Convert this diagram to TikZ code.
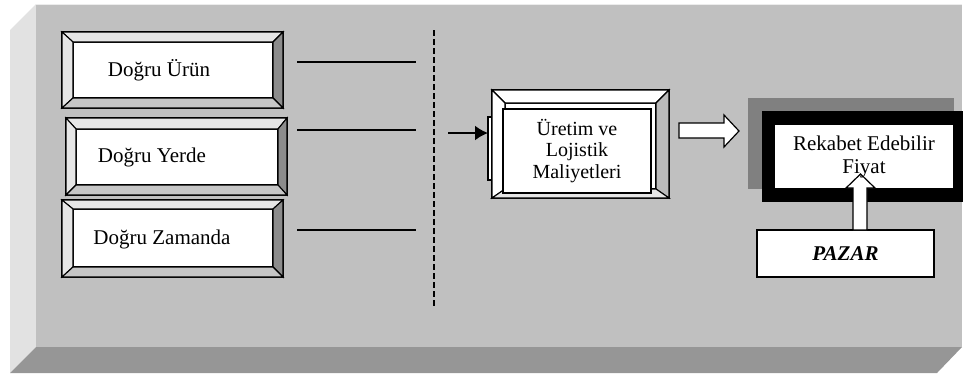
\documentclass[tikz,border=0pt]{standalone}
\usepackage{fontspec}
\setmainfont{Liberation Serif}
\usepackage{tikz}
\usepackage{xcolor}
\usetikzlibrary{arrows.meta}

\definecolor{frontgray}{HTML}{C0C0C0}
\definecolor{sidegray}{HTML}{E2E2E2}
\definecolor{floorgray}{HTML}{969696}
\definecolor{bevlight}{HTML}{E6E6E6}
\definecolor{bevdark}{HTML}{8C8C8C}
\definecolor{bevmid}{HTML}{C6C6C6}
\definecolor{shadegray}{HTML}{808080}

\tikzset{
  plate/.style={draw, line width=1.1pt, outer sep=0pt, inner sep=0pt, fill=white},
  label/.style={font=\fontsize{21}{23}\selectfont, align=center, inner sep=0pt},
  hline/.style={line width=2pt},
}

% four bevel faces between an outer and an inner node
\newcommand{\bevelfaces}[6]{%
  \filldraw[line width=1.1pt, fill=#3] (#1.north west) -- (#1.north east) -- (#2.north east) -- (#2.north west) -- cycle;
  \filldraw[line width=1.1pt, fill=#4] (#1.north west) -- (#2.north west) -- (#2.south west) -- (#1.south west) -- cycle;
  \filldraw[line width=1.1pt, fill=#5] (#1.north east) -- (#2.north east) -- (#2.south east) -- (#1.south east) -- cycle;
  \filldraw[line width=1.1pt, fill=#6] (#1.south west) -- (#2.south west) -- (#2.south east) -- (#1.south east) -- cycle;
}

\begin{document}
\begin{tikzpicture}[x=1pt, y=-1pt]
\useasboundingbox (0, 0) rectangle (963, 376);
% the slab behind everything
\fill[sidegray] (36, 4) -- (36, 347) -- (10, 373) -- (10, 30) -- cycle;
\fill[floorgray] (36, 347) -- (962, 347) -- (937, 373) -- (10, 373) -- cycle;
\fill[frontgray] (36, 4) rectangle (962, 347);
\draw[white!85!gray, line width=1pt] (36, 4) -- (962, 4);

% left column
\node[plate, minimum width=221, minimum height=76] (urunout) at (172.5, 70) {};
\node[plate, minimum width=200, minimum height=56] (urunin) at (173, 70) {};
\bevelfaces{urunout}{urunin}{bevlight}{bevlight}{bevdark}{bevmid}
\node[label] (urun) at (159, 70) {Doğru Ürün};

\node[plate, minimum width=221, minimum height=77] (yerdeout) at (176.5, 156.5) {};
\node[plate, minimum width=202, minimum height=56] (yerdein) at (177, 157) {};
\bevelfaces{yerdeout}{yerdein}{bevlight}{bevlight}{bevdark}{bevmid}
\node[label] (yerde) at (152, 157) {Doğru Yerde};

\node[plate, minimum width=221, minimum height=77] (zamanout) at (172.5, 238.5) {};
\node[plate, minimum width=200, minimum height=58] (zamanin) at (173, 238) {};
\bevelfaces{zamanout}{zamanin}{bevlight}{bevlight}{bevdark}{bevmid}
\node[label] (zaman) at (162, 239) {Doğru Zamanda};

\foreach \y in {62, 130, 230}
  \draw[hline] (297, \y) -- (416, \y);
\draw[line width=2pt, dash pattern=on 6pt off 3pt] (434, 30) -- (434, 307);

% cost box
\node[plate, minimum width=5, minimum height=63] (side) at (490.5, 148.5) {};
\node[plate, minimum width=177, minimum height=108] (maliout) at (580.5, 144) {};
\node[plate, minimum width=151, minimum height=86] (maliin) at (580.5, 146) {};
\bevelfaces{maliout}{maliin}{white}{white}{bevmid!85!gray}{bevlight}
\node[plate, line width=2pt, minimum width=148, minimum height=84] (mali) at (577, 151) {};
\node[label, font=\fontsize{20}{21.5}\selectfont] at (mali.center) {Üretim ve\\Lojistik\\Maliyetleri};
\coordinate (start) at (448, 133);
\draw[line width=2pt, -{Latex[length=13pt, width=15pt]}] (start) -- (start -| side.west);

% block arrow to the price
\filldraw[fill=white, line width=1.2pt] (679, 123) -- (724, 123) -- (724, 115) -- (739, 131)
  -- (724, 147) -- (724, 138) -- (679, 138) -- cycle;

% price box
\fill[shadegray] (748, 98) rectangle (954, 189);
\fill[black] (762, 111) rectangle (963, 202);
\node[fill=white, outer sep=0pt, minimum width=178, minimum height=63] (fiyat) at (864, 156.5) {};

% market box
\node[plate, line width=2pt, minimum width=177, minimum height=47] (pazar) at (845.5, 253.5)
  {\fontsize{21}{23}\selectfont\bfseries\itshape PAZAR};
\filldraw[fill=white, line width=1.2pt] (853, 230) -- (853, 188) -- (846, 188) -- (860.5, 174)
  -- (875, 188) -- (867, 188) -- (867, 230) -- cycle;
\node[label] at (fiyat.center) {Rekabet Edebilir\\Fiyat};
\end{tikzpicture}
\end{document}
